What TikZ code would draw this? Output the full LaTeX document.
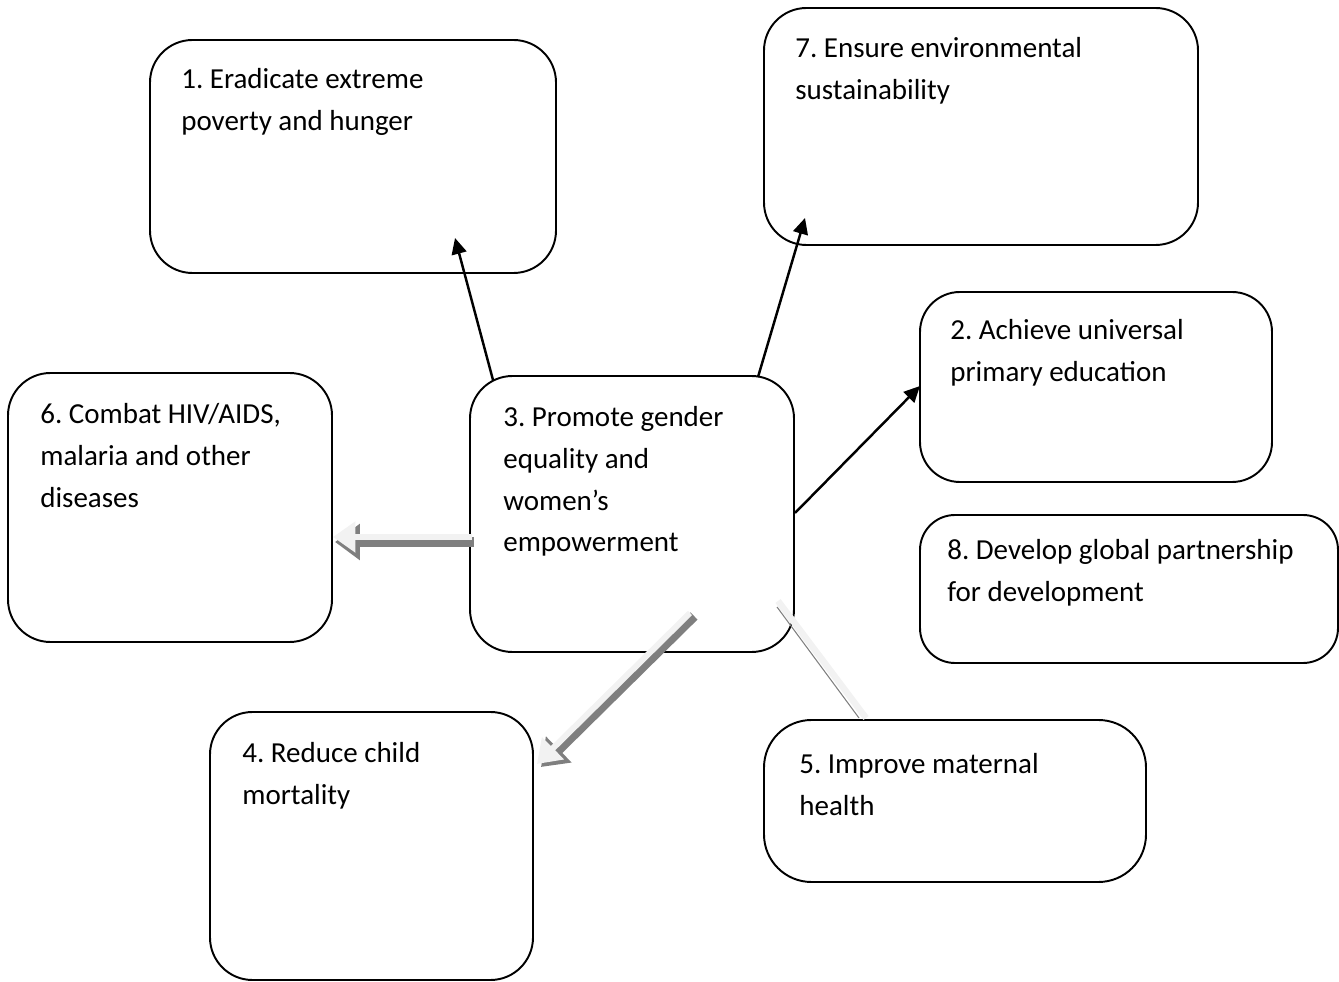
\documentclass[tikz,border=0pt]{standalone}
\usepackage{fontspec}
\setmainfont{Carlito}
\usetikzlibrary{arrows.meta}
\definecolor{facegray}{RGB}{242,242,242}
\definecolor{shadegray}{RGB}{127,127,127}
\newcommand\goalbox[6][0.85cm]{%
  \node[box, rounded corners=#1, minimum width={(#5-#3)*0.02cm}, minimum height={(#6-#4)*0.02cm}]
    (#2) at ({(#3+#5)/2},{(#4+#6)/2}) {};}
\frenchspacing
\begin{document}
\begin{tikzpicture}[x=0.02cm,y=-0.02cm,
  box/.style={draw, line width=1.1pt, inner sep=0pt, outer sep=0pt},
  txt/.style={anchor=north west, inner sep=0pt, align=left, font=\fontsize{16.5}{23.8}\selectfont\frenchspacing},
  blk/.style={line width=1.4pt, -{Triangle[length=0.32cm,width=0.3cm]}},
  shade3d/.style={line width=0.2cm, draw=shadegray, -{Triangle[length=0.5cm,width=0.7cm,fill=shadegray]}},
  face3d/.style={line width=0.12cm, draw=facegray, -{Triangle[length=0.45cm,width=0.6cm,fill=facegray]}},
]
\useasboundingbox (0,0) rectangle (1339,982);

% boxes
\goalbox{b1}{150}{40}{556}{273}
\goalbox{b7}{764}{8}{1198}{245}
\goalbox[0.8cm]{b2}{920}{292}{1272}{482}
\goalbox[0.7cm]{b8}{920}{515}{1338}{663}
\goalbox{b6}{8}{373}{332}{642}
\goalbox{b3}{470}{376}{794}{652}
\goalbox{b4}{210}{712}{533}{980}
\goalbox[0.95cm]{b5}{764}{720}{1146}{882}

% texts
\node[txt] (t1) at (181,68) {1. Eradicate extreme\\poverty and hunger};
\node[txt] (t7) at (795,37) {7. Ensure environmental\\sustainability};
\node[txt] (t2) at (950,319) {2. Achieve universal\\primary education};
\node[txt] (t8) at (947,539) {8. Develop global partnership\\for development};
\node[txt] (t6) at (40,403) {6. Combat HIV/AIDS,\\malaria and other\\diseases};
\node[txt] (t3) at (503,406) {3. Promote gender\\equality and\\women’s\\empowerment};
\node[txt] (t4) at (242,742) {4. Reduce child\\mortality};
\node[txt] (t5) at (799,753) {5. Improve maternal\\health};

% connector end points
\coordinate (s1) at (493,380);
\coordinate (e1) at (455,238);
\coordinate (s7) at (758,377);
\coordinate (e7) at (805,218);
\coordinate (s2) at (795,513);
\coordinate (e2) at (920,386);
\coordinate (s6) at (472,537);
\coordinate (e6) at (333,537);
\coordinate (s4) at (690,613);
\coordinate (e4) at (537,764);
\coordinate (s5) at (778,601);
\coordinate (e5) at (866,718);

% black arrows
\draw[blk] (s1) -- (e1);
\draw[blk] (s7) -- (e7);
\draw[blk] (s2) -- (e2);

% 3D grey arrows
\draw[shade3d] ([shift={(2,5)}]s6) -- ([shift={(2,5)}]e6);
\draw[face3d] (s6) -- (e6);
\draw[shade3d] ([shift={(4,3)}]s4) -- ([shift={(4,3)}]e4);
\draw[face3d] (s4) -- (e4);

% plain band towards goal 5
\draw[line width=0.13cm, draw=facegray] (s5) -- (e5);
\draw[line width=0.6pt, draw=shadegray] ([shift={(-1,6)}]s5) -- ([shift={(-7,0)}]e5);
\end{tikzpicture}
\end{document}
